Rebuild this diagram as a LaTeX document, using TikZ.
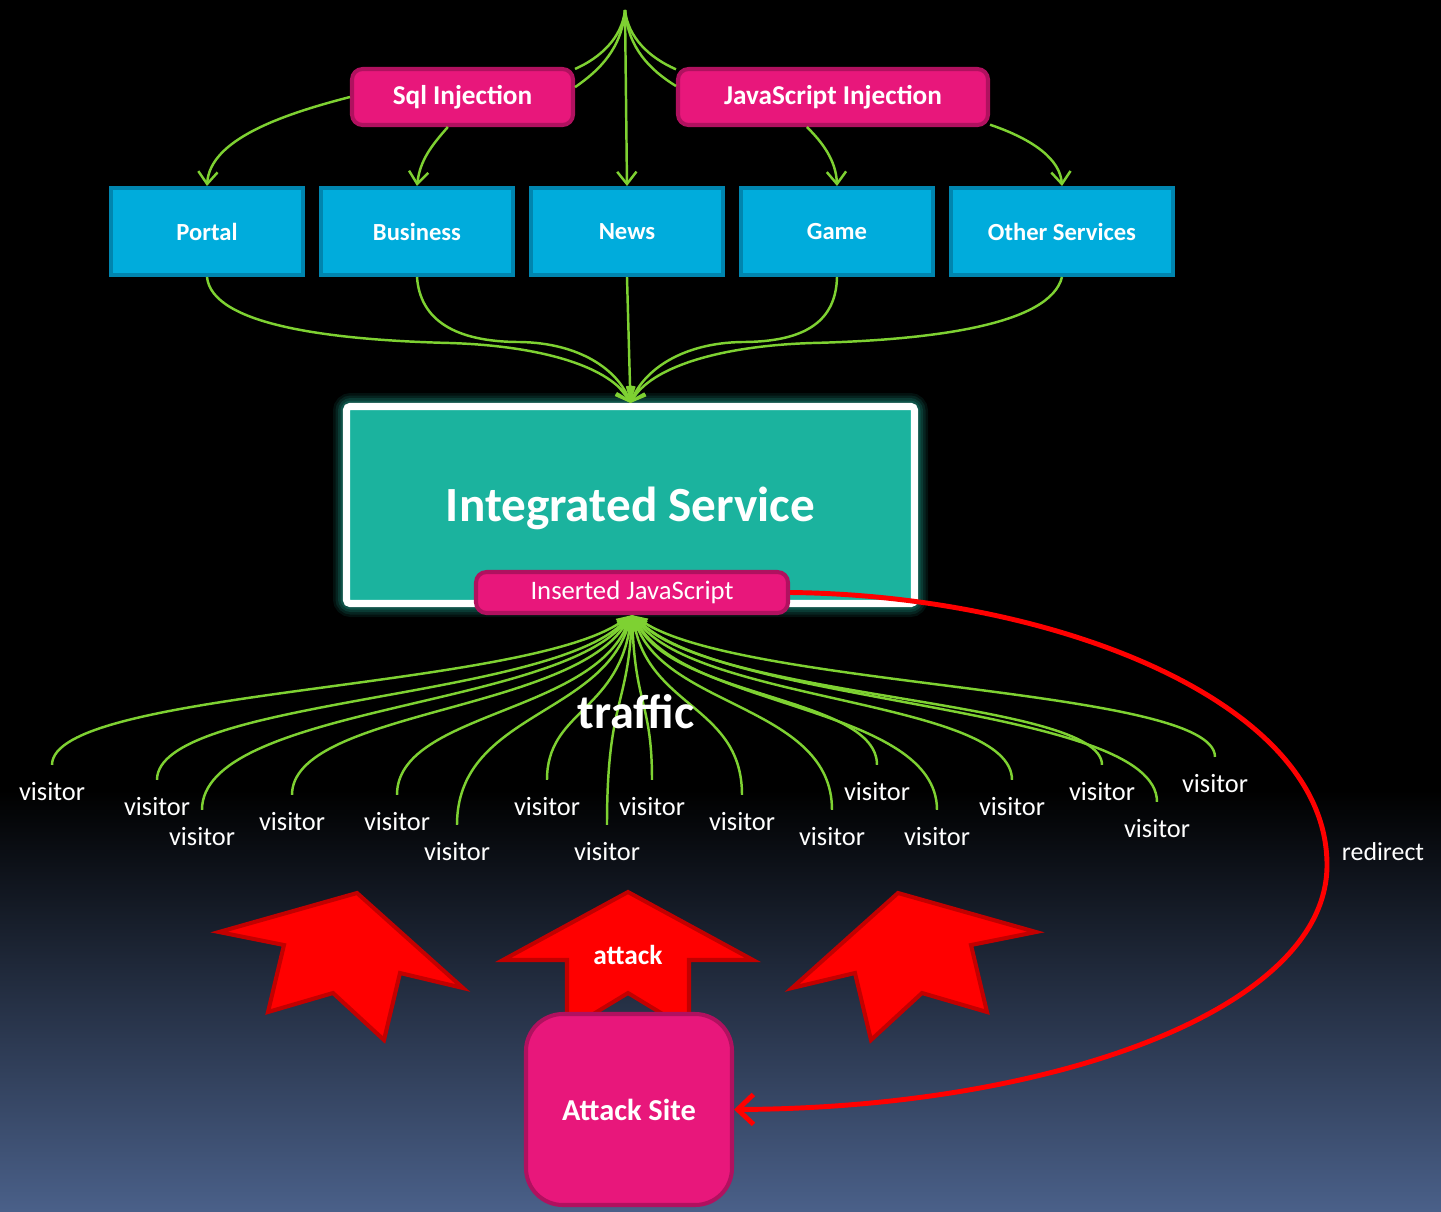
\documentclass[tikz,border=0pt]{standalone}
\usepackage{fontspec}
\setmainfont{Carlito}
\usetikzlibrary{arrows.meta,calc}

\newdimen\pxu
\pxu=0.02cm

\definecolor{magentabox}{HTML}{E8177B}
\definecolor{magentaedge}{HTML}{B0115F}
\definecolor{svcblue}{HTML}{00ACDC}
\definecolor{svcedge}{HTML}{0085AF}
\definecolor{tealbox}{HTML}{1BB39E}
\definecolor{tealglow}{HTML}{1FA896}
\definecolor{lime}{HTML}{7ED132}
\definecolor{bgblue}{HTML}{4A6089}
\definecolor{arrowred}{HTML}{FF0000}
\definecolor{arrowedge}{HTML}{C20000}

\tikzset{
  svcbox/.style={draw=svcedge, fill=svcblue, line width=2.3pt, minimum height=87\pxu,
    inner sep=0pt, text=white, font=\fontsize{14}{16}\selectfont\bfseries},
  injbox/.style={draw=magentaedge, fill=magentabox, line width=2.3pt, rounded corners=6pt,
    minimum height=56\pxu, inner sep=0pt, text=white, font=\fontsize{15.5}{18}\selectfont\bfseries},
  link/.style={draw=lime, line width=1.4pt},
  linkarrow/.style={link, -{Straight Barb[length=7pt,width=11pt]}},
  trafficlink/.style={link, -{Triangle[length=9pt,width=6pt]}},
  visitor/.style={text=white, inner xsep=0pt, inner ysep=10pt, font=\fontsize{15}{17}\selectfont},
  redirectline/.style={draw=arrowred, line width=2.8pt, -{Straight Barb[length=9pt,width=17pt]}},
  bigarrow/.style={fill=arrowred, draw=arrowedge, line width=2.3pt, line join=miter},
  whitetext/.style={text=white}
}

\begin{document}
\begin{tikzpicture}[x=0.02cm, y=-0.02cm]
\useasboundingbox (0,0) rectangle (1441,1211);

% backdrop: black, fading into slate blue at the bottom
\fill[black] (0,0) rectangle (1441,791);
\shade[top color=black, bottom color=bgblue] (0,790) rectangle (1441,1211);

% integrated service block with its soft glow
\foreach \w/\o in {22/0.10, 17/0.13, 12/0.17, 7/0.22} {
  \draw[tealglow, opacity=\o, line width=\w\pxu, rounded corners=4pt] (344,404) rectangle (917,606);
}
\node[draw=white, fill=tealbox, line width=4pt, rounded corners=2pt, minimum width=568\pxu,
      minimum height=197\pxu, inner sep=0pt] (integ) at (630.5,505) {};
\node[whitetext, font=\fontsize{28}{32}\selectfont\bfseries] (integlabel)
      at (630.5,508) {Integrated Service};

% services
\node[svcbox, minimum width=192\pxu] (portal)   at (207,231.5)  {Portal};
\node[svcbox, minimum width=192\pxu] (business) at (417,231.5)  {Business};
\node[svcbox, minimum width=192\pxu] (news)     at (627,231.5)  {News};
\node[svcbox, minimum width=192\pxu] (game)     at (837,231.5)  {Game};
\node[svcbox, minimum width=222\pxu] (other)    at (1062,231.5) {Other Services};

% injections
\node[injbox, minimum width=221\pxu] (sql) at (462.5,97) {Sql Injection};
\node[injbox, minimum width=310\pxu] (js)  at (833,97)   {JavaScript Injection};
\coordinate (top) at (625,10);

\draw[link] (top) .. controls (622,38) and (600,58) .. (sql.14);
\draw[link] (top) .. controls (622,48) and (600,70) .. (sql.5);
\draw[link] (top) .. controls (628,38) and (650,58) .. (js.170);
\draw[link] (top) .. controls (628,48) and (650,70) .. (js.176);
\draw[linkarrow] (top) -- (news.north);

\draw[linkarrow] (sql.west) .. controls (280,115) and (210,140) .. (portal.north);
\draw[linkarrow] (sql.244) .. controls (432,145) and (420,160) .. (business.north);
\draw[linkarrow] (js.229) .. controls (822,142) and (836,160) .. (game.north);
\draw[linkarrow] (js.-10) .. controls (1035,140) and (1060,160) .. (other.north);

% services feeding the integrated service
\draw[linkarrow] (portal.south) .. controls (212,325) and (330,340) .. (450,343)
                 .. controls (545,346) and (612,368) .. (integ.north);
\draw[linkarrow] (business.south) .. controls (420,320) and (455,342) .. (520,342)
                 .. controls (580,343) and (618,370) .. (integ.north);
\draw[linkarrow] (news.south) -- (integ.north);
\draw[linkarrow] (game.south) .. controls (836,320) and (807,342) .. (742,342)
                 .. controls (682,343) and (644,370) .. (integ.north);
\draw[linkarrow] (other.south) .. controls (1050,325) and (932,340) .. (812,343)
                 .. controls (717,346) and (650,368) .. (integ.north);

% script inserted into the service
\node[injbox, minimum width=312\pxu, minimum height=41\pxu,
      font=\fontsize{15.2}{18}\selectfont] (injs) at (632,592.5) {Inserted JavaScript};

% visitors
\foreach \i/\vx/\vy in {1/52/792, 2/157/807, 3/202/837, 4/292/822, 5/397/822, 6/457/852,
    7/547/807, 8/607/852, 9/652/807, 10/742/822, 11/832/837, 12/877/792, 13/937/837,
    14/1012/807, 15/1102/792, 16/1157/829, 17/1215/784} {
  \node[visitor] (v\i) at (\vx,\vy) {visitor};
}

% traffic from every visitor into the script
\foreach \i/\m in {1/690, 2/700, 3/708, 4/712, 5/714, 6/716, 7/712, 8/705, 9/705, 10/708,
    11/708, 12/698, 13/708, 14/702, 15/700, 16/706, 17/688} {
  \coordinate (lvl) at (0,\m);
  \path ($(injs.south)!0.2!(v\i.north)$) coordinate (q);
  \draw[trafficlink] (v\i.north) .. controls (v\i.north |- lvl) and (q |- lvl) .. (injs.south);
}
\node[whitetext, font=\fontsize{27.5}{30}\selectfont\bfseries] (trafficlabel) at (636,712) {traffic};

% attack arrows
\draw[bigarrow] (357,893) -- (463,988) -- (400,973) -- (384,1040) -- (333,993)
                -- (268,1012) -- (284,945) -- (219,932) -- cycle;
\draw[bigarrow] (628,892) -- (753,960) -- (689,960) -- (689,1030) -- (628,993)
                -- (567,1030) -- (567,960) -- (503,960) -- cycle;
\draw[bigarrow] (898,893) -- (792,988) -- (855,973) -- (871,1040) -- (922,993)
                -- (987,1012) -- (971,945) -- (1036,932) -- cycle;
\node[whitetext, font=\fontsize{15.6}{18}\selectfont\bfseries] (attacklabel) at (628,955) {attack};

% attack site
\node[draw=magentaedge, fill=magentabox, line width=2.3pt, rounded corners=21pt,
      minimum width=206\pxu, minimum height=191\pxu, inner sep=0pt, text=white,
      font=\fontsize{17.3}{20}\selectfont\bfseries] (atk) at (629,1109.5) {Attack Site};

% redirect back to the attack site
\draw[redirectline] (injs.east) .. controls (1050,595) and (1327,700) .. (1327,865)
                    .. controls (1327,1010) and (1050,1108) .. (atk.east);
\node[whitetext, font=\fontsize{14.7}{17}\selectfont] (redirlabel) at (1383,852) {redirect};
\end{tikzpicture}
\end{document}
